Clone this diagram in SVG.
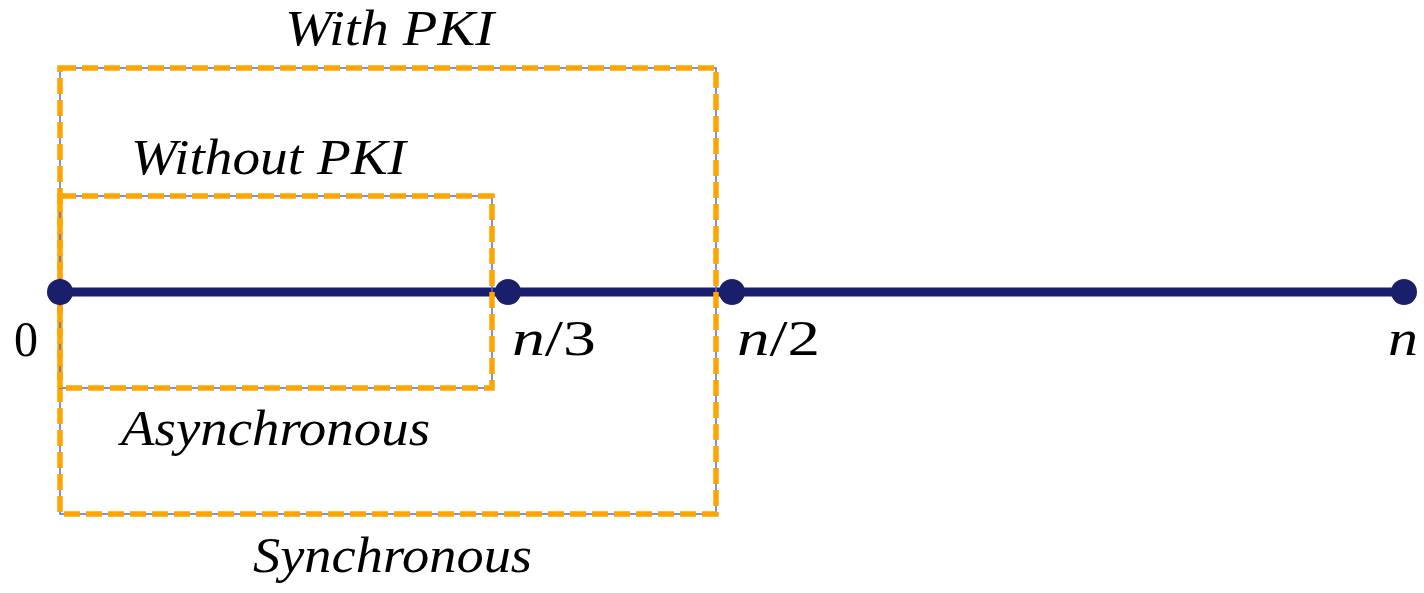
<svg xmlns="http://www.w3.org/2000/svg" width="1424" height="593" viewBox="0 0 1424 593">
<style>
.lbl{font-family:"Liberation Serif","DejaVu Serif",serif;font-style:italic;font-size:51px;fill:#000}
.math{font-family:"Liberation Serif","DejaVu Serif",serif;font-size:50px;fill:#000}
.thin{fill:none;stroke:#5470D0;stroke-width:1.5}
.dash{fill:none;stroke:#FFA500;stroke-width:5.5;stroke-dasharray:16 6}
.axis{stroke:#1A1F6C;stroke-width:9;stroke-linecap:butt}
.dot{fill:#1A1F6C}
</style>
<rect width="1424" height="593" fill="#fff"/>
<g id="connectors">
<line class="axis" x1="60" y1="292" x2="1404" y2="292"/>
</g>
<g id="region-with-pki">
<rect class="thin" x="60" y="68" width="656" height="446"/>
<rect class="dash" x="60" y="68" width="656" height="446"/>
<text class="lbl" x="285" y="45" textLength="209" lengthAdjust="spacingAndGlyphs">With PKI</text>
<text class="lbl" x="253" y="572" textLength="279" lengthAdjust="spacingAndGlyphs">Synchronous</text>
</g>
<g id="region-without-pki">
<rect class="thin" x="60" y="196" width="432" height="192"/>
<rect class="dash" x="60" y="196" width="432" height="192"/>
<text class="lbl" x="131" y="174" textLength="275" lengthAdjust="spacingAndGlyphs">Without PKI</text>
<text class="lbl" x="121" y="445" textLength="309" lengthAdjust="spacingAndGlyphs">Asynchronous</text>
</g>
<g id="node-0">
<circle class="dot" cx="60" cy="292" r="13"/>
<text class="math" x="14" y="356" textLength="24" lengthAdjust="spacingAndGlyphs">0</text>
</g>
<g id="node-n3">
<circle class="dot" cx="508" cy="292" r="13"/>
<text class="math" x="512" y="355" textLength="84" lengthAdjust="spacingAndGlyphs"><tspan font-style="italic">n</tspan>/3</text>
</g>
<g id="node-n2">
<circle class="dot" cx="732" cy="292" r="13"/>
<text class="math" x="737" y="355" textLength="83" lengthAdjust="spacingAndGlyphs"><tspan font-style="italic">n</tspan>/2</text>
</g>
<g id="node-n">
<circle class="dot" cx="1404" cy="292" r="13"/>
<text class="lbl" x="1388" y="355" textLength="30" lengthAdjust="spacingAndGlyphs">n</text>
</g>
</svg>
